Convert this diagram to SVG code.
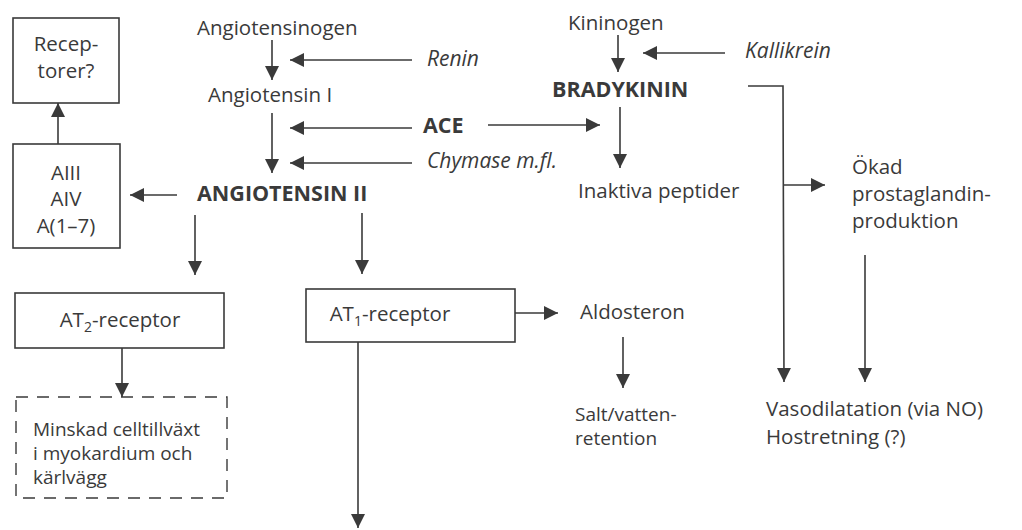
<svg xmlns="http://www.w3.org/2000/svg" width="1022" height="530" viewBox="0 0 1022 530">
<defs>
<marker id="ah" viewBox="0 0 14 14" refX="14" refY="7" markerWidth="14" markerHeight="14" markerUnits="userSpaceOnUse" orient="auto">
<path d="M0,0 L14,7 L0,14 z" fill="#3a3a3a"/>
</marker>
<style>
text{font-family:"Open Sans","Noto Sans","Liberation Sans",sans-serif;font-size:20.5px;fill:#3a3a3a}
.b{font-weight:bold;font-size:21.5px}
.i{font-style:italic;font-size:21px}
.s{font-size:19px}
.m{text-anchor:middle}
.box{fill:#fff;stroke:#3a3a3a;stroke-width:1.6}
.dash{fill:none;stroke:#3a3a3a;stroke-width:1.4;stroke-dasharray:12 9}
.c{fill:none;stroke:#3a3a3a;stroke-width:1.6}
.a{marker-end:url(#ah)}
</style>
</defs>
<rect width="1022" height="530" fill="#fff"/>
<g id="connectors">
<line class="c a" x1="272" y1="40" x2="272" y2="80"/>
<line class="c a" x1="412" y1="60" x2="290" y2="60"/>
<line class="c a" x1="272" y1="113" x2="272" y2="173"/>
<line class="c a" x1="412" y1="128" x2="290" y2="128"/>
<line class="c a" x1="488" y1="125" x2="600" y2="125"/>
<line class="c a" x1="412" y1="163" x2="290" y2="163"/>
<line class="c a" x1="177" y1="195" x2="130" y2="195"/>
<line class="c a" x1="58" y1="144" x2="58" y2="103"/>
<line class="c a" x1="195" y1="215" x2="195" y2="275"/>
<line class="c a" x1="362" y1="213" x2="362" y2="274"/>
<line class="c a" x1="618" y1="35" x2="618" y2="72"/>
<line class="c a" x1="725" y1="53" x2="643" y2="53"/>
<line class="c a" x1="620" y1="107" x2="620" y2="168"/>
<polyline class="c a" points="748,86 783,86 784,382"/>
<line class="c a" x1="784" y1="185" x2="825" y2="185"/>
<line class="c a" x1="865" y1="255" x2="865" y2="382"/>
<line class="c a" x1="122" y1="348" x2="122" y2="397"/>
<line class="c a" x1="515" y1="313" x2="558" y2="313"/>
<line class="c a" x1="623" y1="337" x2="623" y2="388"/>
<line class="c a" x1="358" y1="342" x2="358" y2="528"/>
</g>
<g id="receptorer"><rect class="box" x="13" y="18" width="106" height="85"/><text class="m" x="66" y="51">Recep-</text><text class="m" x="66" y="78">torer?</text></g>
<g id="aiii"><rect class="box" x="13" y="144" width="107" height="104"/><text class="m" x="66" y="180">AIII</text><text class="m" x="66" y="206">AIV</text><text class="m" x="66" y="233">A(1–7)</text></g>
<g id="angiotensinogen"><text x="197" y="35">Angiotensinogen</text></g>
<g id="renin"><text class="i" x="427" y="66">Renin</text></g>
<g id="angiotensin1"><text x="208" y="102">Angiotensin I</text></g>
<g id="ace"><text class="b" x="423" y="133">ACE</text></g>
<g id="chymase"><text class="i" x="427" y="168">Chymase m.fl.</text></g>
<g id="angiotensin2"><text class="b" x="197" y="201">ANGIOTENSIN II</text></g>
<g id="kininogen"><text x="568" y="30">Kininogen</text></g>
<g id="kallikrein"><text class="i" x="745" y="58">Kallikrein</text></g>
<g id="bradykinin"><text class="b" x="552" y="97">BRADYKININ</text></g>
<g id="inaktiva"><text x="578" y="198">Inaktiva peptider</text></g>
<g id="prostaglandin"><text x="852" y="174">Ökad</text><text x="852" y="201">prostaglandin-</text><text x="852" y="228">produktion</text></g>
<g id="vasodilatation"><text x="766" y="416">Vasodilatation (via NO)</text><text x="766" y="444">Hostretning (?)</text></g>
<g id="at2"><rect class="box" x="15" y="293" width="209" height="55"/><text class="m" x="120" y="327">AT<tspan font-size="14" dy="5">2</tspan><tspan dy="-5">-receptor</tspan></text></g>
<g id="minskad"><rect class="dash" x="16" y="397" width="211" height="101"/><text class="s" x="33" y="436">Minskad celltillväxt</text><text class="s" x="33" y="460">i myokardium och</text><text class="s" x="33" y="484">kärlvägg</text></g>
<g id="at1"><rect class="box" x="306" y="289" width="209" height="53"/><text class="m" x="390" y="321">AT<tspan font-size="14" dy="5">1</tspan><tspan dy="-5">-receptor</tspan></text></g>
<g id="aldosteron"><text x="580" y="319">Aldosteron</text></g>
<g id="salt"><text class="s" x="575" y="421">Salt/vatten-</text><text class="s" x="575" y="445">retention</text></g>
</svg>
